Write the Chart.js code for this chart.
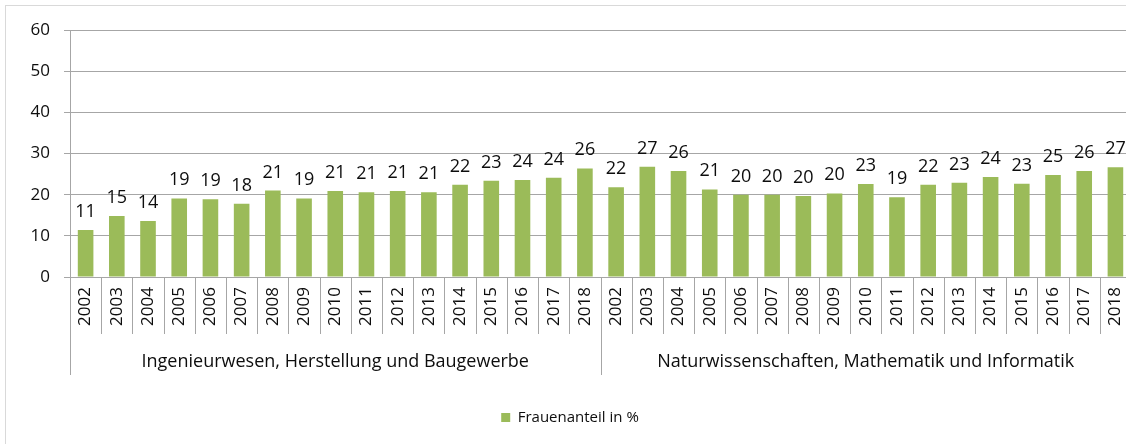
<!DOCTYPE html>
<html>
<head>
<meta charset="utf-8">
<script src="https://cdn.jsdelivr.net/npm/chart.js@4/dist/chart.umd.min.js"></script>
<style>
  html, body { margin: 0; padding: 0; background: #fff; overflow: hidden; width: 1126px; height: 444px; }
  #frame { position: absolute; left: 5px; top: 5px; width: 1140px; height: 450px; border: 1px solid #d9d9d9; }
  canvas { display: block; }
</style>
</head>
<body>
<div id="frame"><canvas id="c" width="1140" height="450"></canvas></div>
<script>
const years = ['2002','2003','2004','2005','2006','2007','2008','2009','2010','2011','2012','2013','2014','2015','2016','2017','2018'];
const groups = ['Ingenieurwesen, Herstellung und Baugewerbe', 'Naturwissenschaften, Mathematik und Informatik'];
const ingValues = [11.4,14.8,13.6,19.1,18.9,17.8,21.0,19.1,20.9,20.6,20.9,20.6,22.4,23.4,23.6,24.1,26.4];
const natValues = [21.8,26.8,25.8,21.3,20.0,20.0,19.7,20.3,22.6,19.4,22.4,22.9,24.3,22.7,24.8,25.8,26.7];
const yTicks = [0,10,20,30,40,50,60];
const seriesName = 'Frauenanteil in %';

const labels = years.concat(years);
const values = ingValues.concat(natValues);
const groupSizes = [ingValues.length, natValues.length];

const FONT = '"Open Sans", "DejaVu Sans", sans-serif';
const GREEN = '#9bbb59';
const GRID = '#a6a6a6';
const TEXT = '#0d0d0d';

const dataLabelPlugin = {
  id: 'dataLabels',
  afterDatasetsDraw(chart) {
    const ctx = chart.ctx;
    const meta = chart.getDatasetMeta(0);
    ctx.save();
    ctx.font = '18px ' + FONT;
    ctx.fillStyle = TEXT;
    ctx.textAlign = 'center';
    ctx.textBaseline = 'alphabetic';
    meta.data.forEach((bar, i) => {
      ctx.fillText(String(Math.round(values[i])), bar.x, bar.y - 13);
    });
    ctx.restore();
  }
};

const groupAxisPlugin = {
  id: 'groupAxis',
  afterDraw(chart) {
    const ctx = chart.ctx;
    const xs = chart.scales.x;
    const top = chart.chartArea.bottom;
    const half = (xs.getPixelForValue(1) - xs.getPixelForValue(0)) / 2;
    ctx.save();
    ctx.strokeStyle = GRID;
    ctx.lineWidth = 1;
    let idx = 0;
    const groupStarts = [];
    groupSizes.forEach(n => { groupStarts.push(idx); idx += n; });
    for (let i = 0; i <= labels.length; i++) {
      const x = Math.round(xs.getPixelForValue(Math.min(i, labels.length - 1)) + (i === labels.length ? half : -half)) + 0.5;
      const isGroupEdge = groupStarts.includes(i) || i === labels.length;
      ctx.beginPath();
      ctx.moveTo(x, top);
      ctx.lineTo(x, top + (isGroupEdge ? 98 : 57));
      ctx.stroke();
    }
    ctx.font = '18px ' + FONT;
    ctx.fillStyle = TEXT;
    ctx.textAlign = 'center';
    ctx.textBaseline = 'middle';
    groups.forEach((g, gi) => {
      const s = groupStarts[gi], e = s + groupSizes[gi] - 1;
      const xc = (xs.getPixelForValue(s) + xs.getPixelForValue(e)) / 2;
      ctx.fillText(g, xc, top + 85);
    });
    ctx.restore();
  }
};

new Chart(document.getElementById('c'), {
  type: 'bar',
  data: {
    labels: labels,
    datasets: [{
      label: seriesName,
      data: values,
      backgroundColor: GREEN,
      borderWidth: 0,
      barPercentage: 0.5,
      categoryPercentage: 1.0
    }]
  },
  options: {
    responsive: false,
    animation: false,
    devicePixelRatio: 1,
    layout: { padding: { top: 9, right: 12, bottom: 21, left: 0 } },
    plugins: {
      legend: {
        position: 'bottom',
        labels: {
          font: { family: FONT, size: 15 },
          color: TEXT,
          boxWidth: 9,
          boxHeight: 9,
          padding: 10
        }
      },
      tooltip: { enabled: false }
    },
    scales: {
      x: {
        type: 'category',
        grid: { display: true, drawOnChartArea: false, drawTicks: false, color: GRID },
        border: { display: true, color: GRID, width: 1 },
        ticks: {
          autoSkip: false,
          minRotation: 90,
          maxRotation: 90,
          padding: 10,
          color: TEXT,
          font: { family: FONT, size: 17 }
        },
        afterFit(scale) { scale.height = 123; }
      },
      y: {
        min: 0,
        max: 60,
        afterBuildTicks(scale) { scale.ticks = yTicks.map(v => ({ value: v })); },
        grid: { color: GRID, tickLength: 6, lineWidth: 1 },
        border: { display: true, color: GRID, width: 1 },
        ticks: {
          padding: 14,
          color: TEXT,
          font: { family: FONT, size: 17 }
        },
        afterFit(scale) { scale.width = 64; }
      }
    }
  },
  plugins: [dataLabelPlugin, groupAxisPlugin]
});
</script>
</body>
</html>
